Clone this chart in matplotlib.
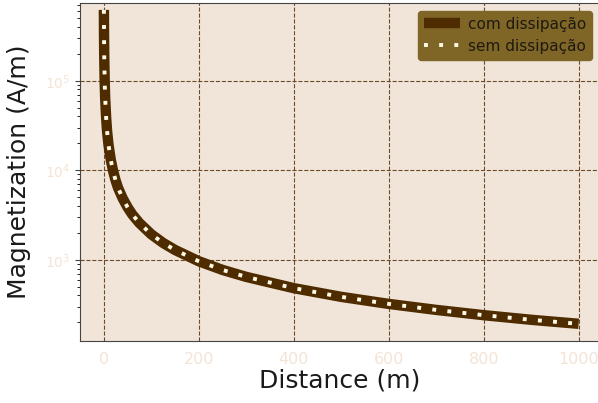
import matplotlib
matplotlib.use('Agg')
import matplotlib.pyplot as plt

# values
distance = [0.3, 0.6, 1, 2, 3, 5, 7, 10, 15, 20, 25, 30, 40, 50, 60, 75, 100, 125, 150, 200,
            250, 300, 400, 500, 600, 700, 800, 900, 1000]
m_com = [620000, 320000, 190000, 97000, 64000, 39000, 27500, 19300, 12900, 9700, 7700, 6400,
         4850, 3880, 3220, 2580, 1930, 1545, 1290, 965, 772, 645, 483, 386, 322, 276, 241, 214, 193]
m_sem = [620000, 320000, 190000, 97000, 64000, 39000, 27500, 19300, 12900, 9700, 7700, 6400,
         4850, 3880, 3220, 2580, 1930, 1545, 1290, 965, 772, 645, 483, 386, 322, 276, 241, 214, 193]

fig = plt.figure(figsize=(5.98, 4.03), dpi=100)
ax = fig.add_axes([80 / 598, 62 / 403, 520 / 598, 338 / 403])
ax.set_facecolor('#f1e5da')

ax.plot(distance, m_com, color='#4f2c00', lw=7.5, solid_capstyle='butt', label='com dissipação')
ax.plot(distance, m_sem, color='#fffbe8', lw=2.8, ls=(0, (1, 2.9)), label='sem dissipação')

ax.set_yscale('log')
ax.set_xlim(-50, 1045)
ax.set_ylim(124, 7.4e5)
ax.set_xticks([0, 200, 400, 600, 800, 1000])

ax.grid(True, which='major', color='#6b4a24', ls='--', lw=0.8)
ax.tick_params(colors='#444444', labelcolor='#f3e4d6')
ax.tick_params(axis='x', which='both', length=0, labelsize=11.5, pad=8)
ax.tick_params(axis='y', labelsize=10)
for s in ax.spines.values():
    s.set_color('#444444')

ax.set_xlabel('Distance (m)', fontsize=18, color='#1a1a1a', labelpad=1)
ax.set_ylabel('Magnetization (A/m)', fontsize=18, color='#1a1a1a', labelpad=10)

leg = ax.legend(loc='upper right', fontsize=11, facecolor='#7f6526', edgecolor='#7f6526',
                framealpha=1.0, handlelength=2.4, borderaxespad=0.5, borderpad=0.4,
                labelspacing=0.45, handletextpad=0.5)
for t in leg.get_texts():
    t.set_color('#1e1a10')

fig.savefig('out.png', dpi=100)
